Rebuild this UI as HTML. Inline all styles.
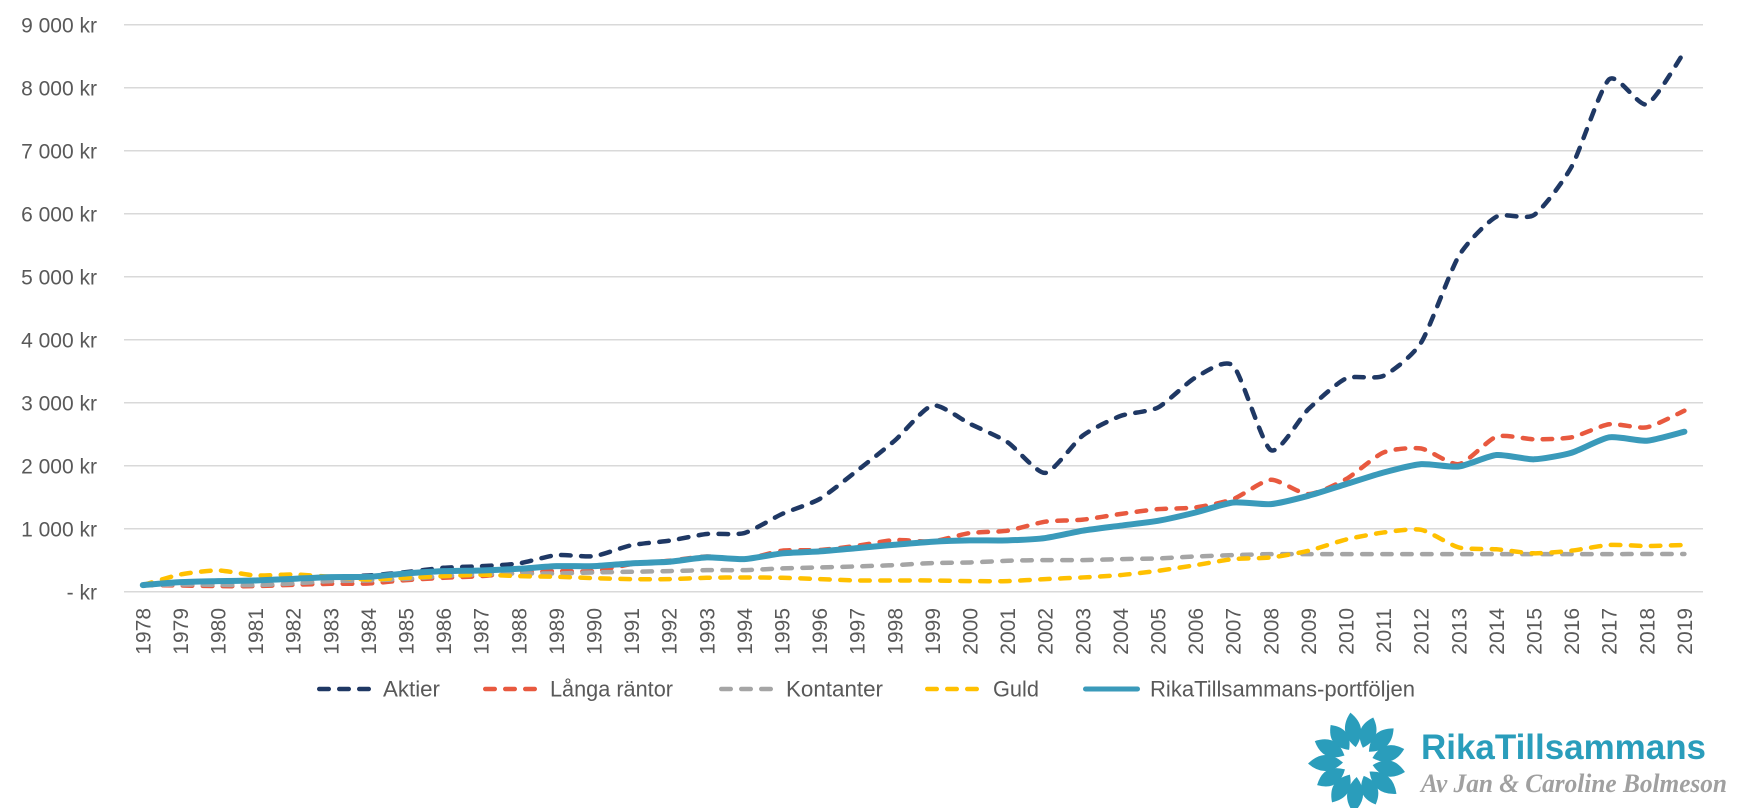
<!DOCTYPE html>
<html><head><meta charset="utf-8">
<style>
html,body{margin:0;padding:0;background:#fff;}
svg{display:block;}
.ax{font-family:"Liberation Sans",sans-serif;font-size:21px;fill:#595959;}
.lg{font-family:"Liberation Sans",sans-serif;font-size:22px;fill:#595959;}
</style></head>
<body>
<svg id="c" width="1763" height="808" viewBox="0 0 1763 808" xmlns="http://www.w3.org/2000/svg">
<rect width="1763" height="808" fill="#fff"/>
<g stroke="#d9d9d9" stroke-width="1.5">
<line x1="124" x2="1703" y1="24.8" y2="24.8"/>
<line x1="124" x2="1703" y1="87.8" y2="87.8"/>
<line x1="124" x2="1703" y1="150.8" y2="150.8"/>
<line x1="124" x2="1703" y1="213.8" y2="213.8"/>
<line x1="124" x2="1703" y1="276.8" y2="276.8"/>
<line x1="124" x2="1703" y1="339.8" y2="339.8"/>
<line x1="124" x2="1703" y1="402.8" y2="402.8"/>
<line x1="124" x2="1703" y1="465.8" y2="465.8"/>
<line x1="124" x2="1703" y1="528.8" y2="528.8"/>
<line x1="124" x2="1703" y1="591.8" y2="591.8"/>
</g>
<g class="ax" text-anchor="end">
<text x="97" y="32.3">9 000 kr</text>
<text x="97" y="95.3">8 000 kr</text>
<text x="97" y="158.3">7 000 kr</text>
<text x="97" y="221.3">6 000 kr</text>
<text x="97" y="284.3">5 000 kr</text>
<text x="97" y="347.3">4 000 kr</text>
<text x="97" y="410.3">3 000 kr</text>
<text x="97" y="473.3">2 000 kr</text>
<text x="97" y="536.3">1 000 kr</text>
<text x="97" y="599.3">- kr</text>
</g>
<g class="ax" text-anchor="end">
<text transform="translate(150.3,608) rotate(-90)">1978</text>
<text transform="translate(187.9,608) rotate(-90)">1979</text>
<text transform="translate(225.5,608) rotate(-90)">1980</text>
<text transform="translate(263.1,608) rotate(-90)">1981</text>
<text transform="translate(300.7,608) rotate(-90)">1982</text>
<text transform="translate(338.3,608) rotate(-90)">1983</text>
<text transform="translate(375.9,608) rotate(-90)">1984</text>
<text transform="translate(413.5,608) rotate(-90)">1985</text>
<text transform="translate(451.1,608) rotate(-90)">1986</text>
<text transform="translate(488.7,608) rotate(-90)">1987</text>
<text transform="translate(526.3,608) rotate(-90)">1988</text>
<text transform="translate(563.9,608) rotate(-90)">1989</text>
<text transform="translate(601.5,608) rotate(-90)">1990</text>
<text transform="translate(639.1,608) rotate(-90)">1991</text>
<text transform="translate(676.7,608) rotate(-90)">1992</text>
<text transform="translate(714.3,608) rotate(-90)">1993</text>
<text transform="translate(751.9,608) rotate(-90)">1994</text>
<text transform="translate(789.5,608) rotate(-90)">1995</text>
<text transform="translate(827.1,608) rotate(-90)">1996</text>
<text transform="translate(864.7,608) rotate(-90)">1997</text>
<text transform="translate(902.3,608) rotate(-90)">1998</text>
<text transform="translate(939.9,608) rotate(-90)">1999</text>
<text transform="translate(977.5,608) rotate(-90)">2000</text>
<text transform="translate(1015.1,608) rotate(-90)">2001</text>
<text transform="translate(1052.7,608) rotate(-90)">2002</text>
<text transform="translate(1090.3,608) rotate(-90)">2003</text>
<text transform="translate(1127.9,608) rotate(-90)">2004</text>
<text transform="translate(1165.5,608) rotate(-90)">2005</text>
<text transform="translate(1203.1,608) rotate(-90)">2006</text>
<text transform="translate(1240.7,608) rotate(-90)">2007</text>
<text transform="translate(1278.3,608) rotate(-90)">2008</text>
<text transform="translate(1315.9,608) rotate(-90)">2009</text>
<text transform="translate(1353.5,608) rotate(-90)">2010</text>
<text transform="translate(1391.1,608) rotate(-90)">2011</text>
<text transform="translate(1428.7,608) rotate(-90)">2012</text>
<text transform="translate(1466.3,608) rotate(-90)">2013</text>
<text transform="translate(1503.9,608) rotate(-90)">2014</text>
<text transform="translate(1541.5,608) rotate(-90)">2015</text>
<text transform="translate(1579.1,608) rotate(-90)">2016</text>
<text transform="translate(1616.7,608) rotate(-90)">2017</text>
<text transform="translate(1654.3,608) rotate(-90)">2018</text>
<text transform="translate(1691.9,608) rotate(-90)">2019</text>
</g>
<g id="series" fill="none" stroke-linecap="round" stroke-linejoin="round"></g>
<!-- legend -->
<g fill="none" stroke-linecap="round">
<line x1="319.25" x2="368.75" y1="689" y2="689" stroke="#1f3864" stroke-width="4.5" stroke-dasharray="9.5 10.5"/>
<line x1="485.25" x2="534.75" y1="689" y2="689" stroke="#e8593f" stroke-width="4.5" stroke-dasharray="9.5 10.5"/>
<line x1="721.25" x2="770.75" y1="689" y2="689" stroke="#a5a5a5" stroke-width="4.5" stroke-dasharray="9.5 10.5"/>
<line x1="927.25" x2="976.75" y1="689" y2="689" stroke="#ffc000" stroke-width="4.5" stroke-dasharray="9.5 10.5"/>
<line x1="1085.5" x2="1137.5" y1="689" y2="689" stroke="#3a9aba" stroke-width="5"/>
</g>
<g class="lg">
<text x="383" y="696.5" textLength="57" lengthAdjust="spacingAndGlyphs">Aktier</text>
<text x="550" y="696.5" textLength="123" lengthAdjust="spacingAndGlyphs">Långa räntor</text>
<text x="786" y="696.5" textLength="97" lengthAdjust="spacingAndGlyphs">Kontanter</text>
<text x="993" y="696.5" textLength="46" lengthAdjust="spacingAndGlyphs">Guld</text>
<text x="1150" y="696.5" textLength="265" lengthAdjust="spacingAndGlyphs">RikaTillsammans-portföljen</text>
</g>
<!-- logo -->
<g id="flower" fill="#2a9dbb" transform="translate(1358,762)"></g>
<text x="1421" y="759" font-family="'Liberation Sans',sans-serif" font-weight="bold" font-size="35" fill="#2a9dbb" textLength="285" lengthAdjust="spacingAndGlyphs">RikaTillsammans</text>
<text x="1421" y="792" font-family="'Liberation Serif',serif" font-weight="bold" font-style="italic" font-size="26" fill="#a0a0a0" textLength="306" lengthAdjust="spacingAndGlyphs">Av Jan &amp; Caroline Bolmeson</text>
</svg>
<script>
(function(){
var NS="http://www.w3.org/2000/svg";
function X(i){return 142.8+37.6*i;}
function Y(v){return 591.8-v*0.063;}
var data=[
 {c:"#1f3864",w:4.5,d:true,v:[106,130,150,175,200,233,259,312,381,407,450,582,566,740,811,917,933,1235,1473,1924,2401,2957,2666,2374,1887,2480,2790,2926,3402,3587,2249,2899,3386,3429,3958,5330,5954,5981,6748,8135,7738,8573]},
 {c:"#e8593f",w:4.5,d:true,v:[106,100,90,90,111,127,132,185,222,249,302,328,328,440,493,560,520,652,662,731,821,800,933,970,1113,1145,1235,1312,1339,1471,1778,1550,1788,2212,2275,2026,2462,2421,2452,2659,2611,2875]},
 {c:"#a5a5a5",w:4.5,d:true,v:[106,116,111,106,132,169,180,206,249,275,291,291,307,318,329,344,344,371,387,403,424,456,466,493,503,503,519,529,561,582,598,598,598,598,598,598,598,598,598,598,600,600]},
 {c:"#ffc000",w:4.5,d:true,v:[106,275,339,259,275,238,196,222,249,270,249,238,217,201,201,223,228,223,201,180,180,180,170,170,201,228,265,333,423,519,545,651,830,942,984,704,675,611,653,743,727,743]},
 {c:"#3a9aba",w:6,d:false,v:[106,153,169,180,206,233,238,291,328,339,365,407,407,452,477,546,519,609,641,694,747,795,816,816,853,970,1049,1127,1259,1418,1392,1524,1709,1894,2026,1989,2171,2103,2208,2452,2398,2541]}
];
var T=1/9;
var g=document.getElementById("series");
data.forEach(function(s){
  var p=s.v.map(function(v,i){return [X(i),Y(v)];});
  var d="M"+p[0][0].toFixed(2)+","+p[0][1].toFixed(2);
  for(var i=0;i<p.length-1;i++){
    var p0=p[i-1]||p[i],p1=p[i],p2=p[i+1],p3=p[i+2]||p[i+1];
    var c1x=p1[0]+(p2[0]-p0[0])*T,c1y=p1[1]+(p2[1]-p0[1])*T;
    var c2x=p2[0]-(p3[0]-p1[0])*T,c2y=p2[1]-(p3[1]-p1[1])*T;
    d+=" C"+c1x.toFixed(2)+","+c1y.toFixed(2)+" "+c2x.toFixed(2)+","+c2y.toFixed(2)+" "+p2[0].toFixed(2)+","+p2[1].toFixed(2);
  }
  var el=document.createElementNS(NS,"path");
  el.setAttribute("d",d);
  el.setAttribute("stroke",s.c);
  el.setAttribute("stroke-width",s.w);
  if(s.d)el.setAttribute("stroke-dasharray","9.5 10.5");
  g.appendChild(el);
});
var f=document.getElementById("flower");
var n=13;
var lens=[48,50,46,51,48,47,50,48,46,50,47,49,48];
for(var k=0;k<n;k++){
  var a=k*360/n+12;
  var r0=15,r1=lens[k],w=16;
  var m=(r0+r1)/2;
  var pe=document.createElementNS(NS,"path");
  pe.setAttribute("d","M"+r0+",0 Q"+m+","+w+" "+r1+",0 Q"+m+","+(-w)+" "+r0+",0Z");
  pe.setAttribute("transform","rotate("+a+")");
  f.appendChild(pe);
}
})();
</script>
</body></html>
